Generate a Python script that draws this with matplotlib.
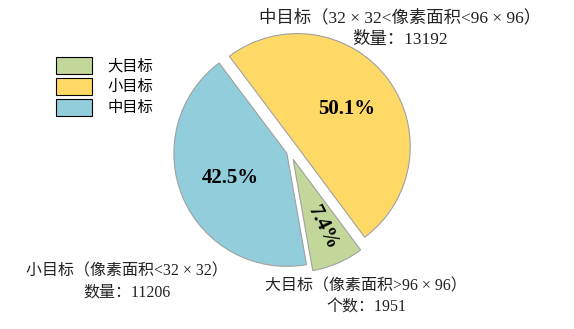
import matplotlib
matplotlib.use("Agg")
import matplotlib.pyplot as plt
import numpy as np
from matplotlib.patches import Patch

plt.rcParams['font.family'] = ['Liberation Serif', 'Noto Sans CJK SC', 'DejaVu Sans']

categories = ['大目标', '小目标', '中目标']
counts = [1951, 13192, 11206]
colors = ['#C4D79B', '#FFD966', '#92CDDC']
explode = [0.07, 0.08, 0.03]
annotations = ['大目标（像素面积>96 × 96）\n个数：1951',
               '中目标（32 × 32<像素面积<96 × 96）\n数量：13192',
               '小目标（像素面积<32 × 32）\n数量：11206']

W, H = 574, 329
fig = plt.figure(figsize=(W / 100, H / 100), dpi=100)
R = 113
cx, cy = 290, 152
lim = 1.3
aw = 2 * lim * R
ax = fig.add_axes([(cx - aw / 2) / W, (H - cy - aw / 2) / H, aw / W, aw / H])
wedges, texts, autotexts = ax.pie(
    counts, colors=colors, explode=explode, startangle=-80, counterclock=True,
    autopct='%1.1f%%', pctdistance=0.55,
    wedgeprops=dict(edgecolor='#A0A0A0', linewidth=0.8),
    textprops=dict(fontsize=15, fontweight='bold', color='black'))
ax.set_xlim(-lim, lim)
ax.set_ylim(-lim, lim)
ax.set_aspect('equal')
ax.axis('off')

# rotate the small slice label along its radius
w = wedges[0]
mid = (w.theta1 + w.theta2) / 2
autotexts[0].set_rotation(mid + 3)
autotexts[0].set_rotation_mode('anchor')
autotexts[0].set_ha('center'); autotexts[0].set_va('center')
r0 = 0.66
autotexts[0].set_position((np.cos(np.radians(mid)) * (r0 + explode[0]), np.sin(np.radians(mid)) * (r0 + explode[0])))

def px(x, y):
    return x / W, 1 - y / H

tkw = dict(ha='center', va='center', linespacing=1.45, color='#222222')
fig.text(*px(400, 29), annotations[1], fontsize=12.5, **tkw)
fig.text(*px(127, 282), annotations[2], fontsize=11.5, **tkw)
fig.text(*px(366, 297), annotations[0], fontsize=11.5, **tkw)

handles = [Patch(facecolor=c, edgecolor='black', linewidth=0.8) for c in colors]
fig.legend(handles, categories, loc='upper left', bbox_to_anchor=(42 / W, 1 - 43 / H),
           frameon=False, fontsize=11, handlelength=2.4, handleheight=1.35,
           labelspacing=0.25, handletextpad=1.0)

fig.savefig('out.png', dpi=100)
